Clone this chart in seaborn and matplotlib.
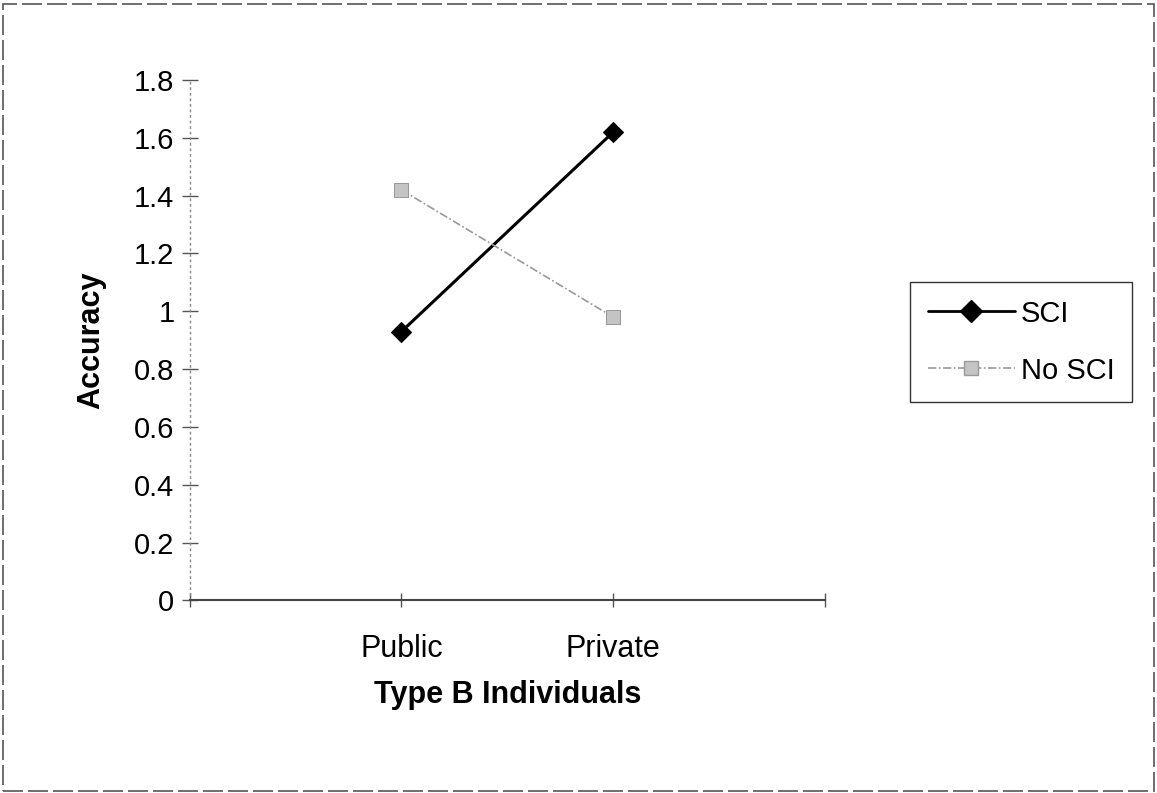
import pandas as pd
import matplotlib.pyplot as plt
import seaborn as sns
from matplotlib.patches import Rectangle

# data
conditions = ['Public', 'Private']
sci = [0.93, 1.62]
no_sci = [1.42, 0.98]
series = ['SCI', 'No SCI']
yticks = [0, 0.2, 0.4, 0.6, 0.8, 1, 1.2, 1.4, 1.6, 1.8]
ytick_labels = ['0', '0.2', '0.4', '0.6', '0.8', '1', '1.2', '1.4', '1.6', '1.8']

df = pd.DataFrame({
    'Type': conditions * 2,
    'Accuracy': sci + no_sci,
    'Group': [series[0]] * 2 + [series[1]] * 2,
})

sns.set_style('white')
plt.rcParams['font.family'] = ['Liberation Sans', 'DejaVu Sans']
plt.rcParams['text.color'] = 'black'
plt.rcParams['xtick.labelcolor'] = 'black'
plt.rcParams['ytick.labelcolor'] = 'black'
plt.rcParams['axes.labelcolor'] = 'black'

fig = plt.figure(figsize=(11.57, 7.93), dpi=100)
ax = fig.add_axes([0.164, 0.243, 0.549, 0.656])

sns.lineplot(data=df, x='Type', y='Accuracy', hue='Group', style='Group',
             hue_order=series, style_order=series,
             palette={'SCI': 'black', 'No SCI': '#9a9a9a'},
             markers={'SCI': 'D', 'No SCI': 's'},
             dashes={'SCI': '', 'No SCI': (5, 1.5, 1, 1.5)},
             markersize=10, ax=ax, legend=False)
ax.lines[0].set_linewidth(2.2)
ax.lines[0].set_markersize(10)
ax.lines[0].set_markeredgecolor('black')
ax.lines[1].set_linewidth(1.2)
ax.lines[1].set_markeredgecolor('#9a9a9a')
ax.lines[1].set_markerfacecolor('#c4c4c4')
ax.lines[1].set_markersize(10)

ax.set_xlim(-1, 2)
ax.set_ylim(0, 1.8)
ax.set_xticks([-1, 0, 1, 2])
ax.set_xticklabels(['', 'Public', 'Private', ''])
ax.set_yticks(yticks)
ax.set_yticklabels(ytick_labels)
ax.tick_params(axis='y', direction='inout', length=12, width=1, color='#555555',
               labelsize=21, pad=5, left=True)
ax.tick_params(axis='x', direction='inout', length=10, width=1, color='#555555',
               labelsize=22, pad=19, bottom=True)

for s in ['top', 'right']:
    ax.spines[s].set_visible(False)
ax.spines['left'].set_color('#888888')
ax.spines['left'].set_linestyle((0, (1, 3)))
ax.spines['left'].set_linewidth(1)
ax.spines['bottom'].set_color('#444444')
ax.spines['bottom'].set_linewidth(1.5)

ax.set_ylabel('Accuracy', fontsize=22, fontweight='bold', labelpad=20)
ax.set_xlabel('Type B Individuals', fontsize=22, fontweight='bold', labelpad=12)

handles = [
    plt.Line2D([], [], color='black', lw=2, marker='D', markersize=11),
    plt.Line2D([], [], color='#9a9a9a', lw=1.2, ls=(0, (5, 1.5, 1, 1.5)),
               marker='s', markersize=10, markerfacecolor='#c4c4c4',
               markeredgecolor='#9a9a9a'),
]
leg = fig.legend(handles, series, loc='upper left',
                 bbox_to_anchor=(910 / 1157, 1 - 282 / 793),
                 fontsize=21, frameon=True, fancybox=False, handlelength=3.0,
                 borderpad=0.6, labelspacing=1.0, handletextpad=0.2,
                 borderaxespad=0)
leg.get_frame().set_edgecolor('black')
leg.get_frame().set_linewidth(1)

# dashed outer chart frame
fig.patches.append(Rectangle((0.003, 0.003), 0.994, 0.992, transform=fig.transFigure,
                             fill=False, edgecolor='#555555', lw=1.2,
                             linestyle=(0, (12, 3))))

plt.savefig('out.png', dpi=100)
